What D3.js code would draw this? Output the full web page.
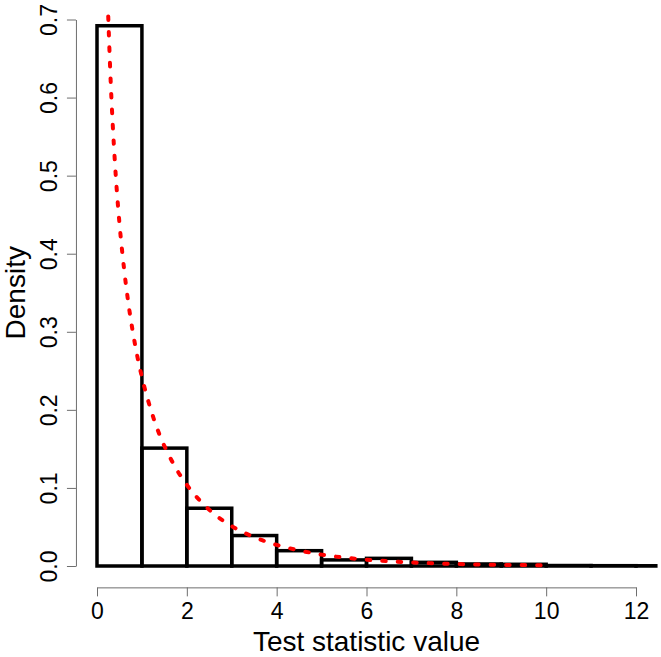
<!DOCTYPE html>
<html>
<head>
<meta charset="utf-8">
<script src="https://cdn.jsdelivr.net/npm/d3@7"></script>
<style>
  html, body { margin: 0; padding: 0; background: #fff; }
  svg { display: block; font-family: "Liberation Sans", Arial, Helvetica, sans-serif; }
</style>
</head>
<body>
<svg id="chart" width="661" height="657"></svg>
<script>
// ---- data ----
const binStarts = [0, 1, 2, 3, 4, 5, 6, 7, 8, 9, 10, 11, 12];
const binWidth = 1;
const densities = [0.692, 0.151, 0.074, 0.039, 0.0196, 0.0078, 0.0098, 0.0047, 0.0026, 0.0022, 0.0006, 0.0004, 0.0003];
const curveX = [0.25, 0.3, 0.4, 0.5, 0.6, 0.7, 0.8, 0.9, 1.0, 1.2, 1.4, 1.6, 1.8, 2.0, 2.5, 3.0, 3.5, 4.0, 4.5, 5.0, 6.0, 7.0, 8.0, 9.0, 10.0];
const curveY = [0.704, 0.627, 0.516, 0.439, 0.382, 0.336, 0.299, 0.268, 0.242, 0.200, 0.167, 0.142, 0.121, 0.104, 0.072, 0.051, 0.037, 0.027, 0.020, 0.0146, 0.0081, 0.0046, 0.0026, 0.0015, 0.0009];
const xTicks = [0, 2, 4, 6, 8, 10, 12];
const yTicks = [0, 0.1, 0.2, 0.3, 0.4, 0.5, 0.6, 0.7];
const xTitle = "Test statistic value";
const yTitle = "Density";

// ---- layout ----
const svg = d3.select("#chart");
const x = d3.scaleLinear().domain([0, 12]).range([97, 636]);
const y = d3.scaleLinear().domain([0, 0.7]).range([566, 19.5]);
const plotLeft = x(-0.48), plotRight = x(12.48);
const plotTop = y(0.728), plotBottom = y(-0.028);

svg.append("clipPath").attr("id", "plotclip")
  .append("rect")
  .attr("x", plotLeft).attr("y", plotTop)
  .attr("width", plotRight - plotLeft).attr("height", plotBottom - plotTop);

const plot = svg.append("g").attr("clip-path", "url(#plotclip)");

// histogram bars
plot.selectAll("rect.bar")
  .data(binStarts.map((s, i) => ({ s, d: densities[i] })))
  .join("rect")
  .attr("class", "bar")
  .attr("x", d => x(d.s))
  .attr("width", d => x(d.s + binWidth) - x(d.s))
  .attr("y", d => y(d.d))
  .attr("height", d => y(0) - y(d.d))
  .attr("fill", "none")
  .attr("stroke", "#000")
  .attr("stroke-width", 3.5)
  .attr("stroke-linejoin", "miter");

// density curve
const line = d3.line()
  .x((d, i) => x(curveX[i]))
  .y(d => y(d))
  .curve(d3.curveMonotoneX);

plot.append("path")
  .attr("d", line(curveY))
  .attr("fill", "none")
  .attr("stroke", "#ff0000")
  .attr("stroke-width", 4)
  .attr("stroke-linecap", "round")
  .attr("stroke-dasharray", "3.5,12");

// x axis
const xAxis = svg.append("g")
  .attr("transform", `translate(0,${plotBottom - 0.5})`)
  .call(d3.axisBottom(x).tickValues(xTicks).tickSize(9).tickSizeOuter(0).tickFormat(d3.format("d")));
xAxis.selectAll("path, line").attr("stroke", "#6e6e6e").attr("stroke-width", 1);
xAxis.selectAll("text")
  .attr("y", 32).attr("dy", 0)
  .attr("fill", "#000")
  .style("font-size", "23px")
  .style("font-family", "'Liberation Sans', Arial, sans-serif");

// y axis
const yAxis = svg.append("g")
  .attr("transform", `translate(${plotLeft + 0.5},0)`)
  .call(d3.axisLeft(y).tickValues(yTicks).tickSize(9).tickSizeOuter(0).tickFormat(d3.format(".1f")));
yAxis.selectAll("path, line").attr("stroke", "#6e6e6e").attr("stroke-width", 1);
yAxis.selectAll("text")
  .attr("transform", "rotate(-90)")
  .attr("x", 0).attr("y", -19).attr("dy", 0)
  .attr("text-anchor", "middle")
  .attr("fill", "#000")
  .style("font-size", "23px")
  .style("font-family", "'Liberation Sans', Arial, sans-serif");

// titles
svg.append("text")
  .attr("x", (plotLeft + plotRight) / 2)
  .attr("y", 651)
  .attr("text-anchor", "middle")
  .style("font-size", "28px")
  .text(xTitle);

svg.append("text")
  .attr("transform", `translate(25,${(plotTop + plotBottom) / 2}) rotate(-90)`)
  .attr("text-anchor", "middle")
  .style("font-size", "28px")
  .text(yTitle);
</script>
</body>
</html>
